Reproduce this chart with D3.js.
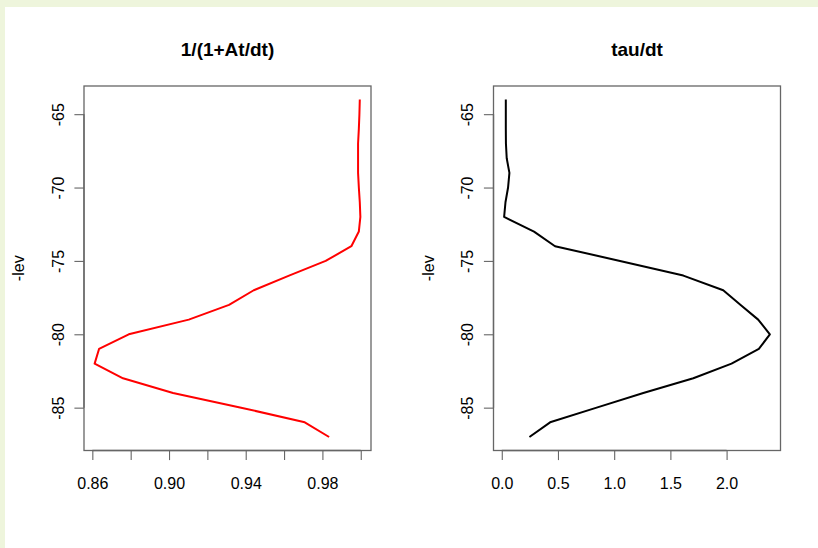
<!DOCTYPE html>
<html>
<head>
<meta charset="utf-8">
<script src="https://cdn.jsdelivr.net/npm/d3@7"></script>
<style>
  html, body { margin: 0; padding: 0; background: #eef5dc; }
  svg { display: block; }
  text { font-family: "Liberation Sans", Arial, sans-serif; }
</style>
</head>
<body>
<div id="chart"></div>
<script>
// levels (y = -lev)
const levels = d3.range(64, 88);
// 1/(1+At/dt) per level
const ratioValues = [0.9995, 0.9993, 0.999, 0.9986, 0.9986, 0.9986, 0.999, 0.9995,
  0.9998, 0.999, 0.9951, 0.9817, 0.9626, 0.9442, 0.9313, 0.9103, 0.879, 0.8635,
  0.8612, 0.876, 0.9021, 0.9376, 0.9708, 0.9835];
// tau/dt per level
const tauValues = [0.036, 0.036, 0.036, 0.037, 0.044, 0.068, 0.056, 0.033,
  0.021, 0.287, 0.474, 1.052, 1.615, 1.970, 2.125, 2.281, 2.385, 2.287,
  2.044, 1.704, 1.259, 0.844, 0.43, 0.246];

const yTicks = [-65, -70, -75, -80, -85];
const ratioTicks = [0.86, 0.88, 0.90, 0.92, 0.94, 0.96, 0.98, 1.00];
const ratioLabels = [0.86, 0.90, 0.94, 0.98];
const tauTicks = [0, 0.5, 1, 1.5, 2];

const width = 818, height = 548;
const svg = d3.select("#chart").append("svg")
  .attr("width", width).attr("height", height);

svg.append("rect").attr("x", 5).attr("y", 7)
  .attr("width", width - 5).attr("height", height - 7).attr("fill", "#fff");

const boxTop = 86, boxBottom = 450.5;
const axisColor = "#666";

// R style range: data extent padded by 4%
function padded(vals) {
  const [lo, hi] = d3.extent(vals);
  const r = hi - lo;
  return [lo - 0.04 * r, hi + 0.04 * r];
}

function panel(opts) {
  const x = d3.scaleLinear().domain(padded(opts.values)).range([opts.left, opts.left + 287]);
  const y = d3.scaleLinear().domain(padded(levels.map(d => -d))).range([boxBottom, boxTop]);
  const g = svg.append("g");

  // line
  const line = d3.line().x(d => x(d.v)).y(d => y(-d.lev));
  g.append("path")
    .datum(levels.map((lev, i) => ({ lev: lev, v: opts.values[i] })))
    .attr("d", line)
    .attr("fill", "none")
    .attr("stroke", opts.color)
    .attr("stroke-width", 2)
    .attr("stroke-linejoin", "round");

  // box
  g.append("rect")
    .attr("x", opts.left).attr("y", boxTop)
    .attr("width", 287).attr("height", boxBottom - boxTop)
    .attr("fill", "none").attr("stroke", axisColor).attr("stroke-width", 1.3);

  // x axis
  const xa = g.append("g")
    .attr("transform", `translate(0,${boxBottom})`)
    .call(d3.axisBottom(x).tickValues(opts.ticks).tickSize(9.6).tickSizeOuter(0)
      .tickFormat(d => opts.labels.some(l => Math.abs(l - d) < 1e-9) ? opts.fmt(d) : ""));
  xa.select(".domain").remove();
  xa.append("line")
    .attr("x1", x(opts.ticks[0])).attr("x2", x(opts.ticks[opts.ticks.length - 1]))
    .attr("stroke", axisColor).attr("stroke-width", 1.3);
  xa.selectAll(".tick line").attr("stroke", axisColor).attr("stroke-width", 1.1);
  xa.selectAll(".tick text")
    .attr("y", 38).attr("dy", null)
    .attr("font-size", 16).attr("fill", "#000")
    .attr("font-family", "Liberation Sans, Arial, sans-serif");

  // y axis (plain hyphen minus like R)
  const ya = g.append("g")
    .attr("transform", `translate(${opts.left},0)`)
    .call(d3.axisLeft(y).tickValues(yTicks).tickSize(9.6).tickSizeOuter(0)
      .tickFormat(d => String(d)));
  ya.select(".domain").remove();
  ya.append("line")
    .attr("y1", y(yTicks[0])).attr("y2", y(yTicks[yTicks.length - 1]))
    .attr("stroke", axisColor).attr("stroke-width", 1.3);
  ya.selectAll(".tick line").attr("stroke", axisColor).attr("stroke-width", 1.1);
  ya.selectAll(".tick text")
    .attr("x", null).attr("dy", null)
    .attr("transform", "translate(-20.5,0) rotate(-90)")
    .attr("text-anchor", "middle")
    .attr("font-size", 16).attr("fill", "#000")
    .attr("font-family", "Liberation Sans, Arial, sans-serif");

  // axis title
  g.append("text")
    .attr("transform", `translate(${opts.left - 60},${(boxTop + boxBottom) / 2}) rotate(-90)`)
    .attr("text-anchor", "middle")
    .attr("font-size", 16)
    .text("-lev");

  // main title
  g.append("text")
    .attr("x", opts.left + 287 / 2).attr("y", 56)
    .attr("text-anchor", "middle")
    .attr("font-size", 19)
    .attr("font-weight", "bold")
    .text(opts.title);
}

panel({ left: 84, values: ratioValues, color: "#ff0000", ticks: ratioTicks,
  labels: ratioLabels, fmt: d3.format(".2f"), title: "1/(1+At/dt)" });
panel({ left: 493.5, values: tauValues, color: "#000", ticks: tauTicks,
  labels: tauTicks, fmt: d3.format(".1f"), title: "tau/dt" });
</script>
</body>
</html>
